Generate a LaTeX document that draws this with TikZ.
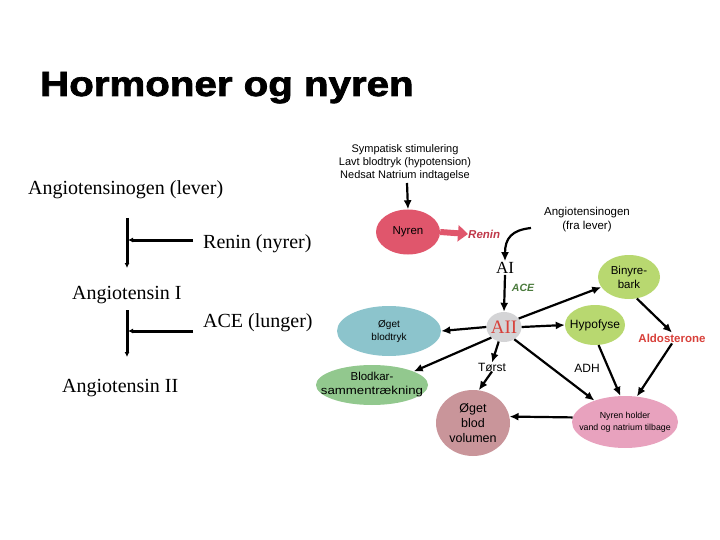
\documentclass[tikz,border=0pt]{standalone}
\usepackage{fontspec}
\setmainfont{Liberation Serif}
\newfontfamily\arialf{Liberation Sans}
\newfontfamily\titlef[FakeBold=2]{Liberation Sans Bold}
\usetikzlibrary{arrows.meta,shapes.geometric}
\definecolor{nyrcol}{HTML}{E0566C}
\definecolor{renincol}{HTML}{C0394A}
\definecolor{acecol}{HTML}{4A7A3C}
\definecolor{aiicol}{HTML}{D4D4D6}
\definecolor{blodcol}{HTML}{8CC4CC}
\definecolor{bincol}{HTML}{B8D870}
\definecolor{karcol}{HTML}{92C88E}
\definecolor{volcol}{HTML}{C9959A}
\definecolor{holdcol}{HTML}{E8A2BE}
\definecolor{aldcol}{HTML}{D8403A}
\begin{document}
\begin{tikzpicture}[x=1pt,y=-1pt,
  serif/.style={font=\fontsize{20}{22}\selectfont, inner sep=0pt},
  sm/.style={font=\arialf\fontsize{11}{13}\selectfont, align=center, inner sep=0pt},
  blob/.style={ellipse, inner sep=0pt},
  btxt/.style={font=\arialf\fontsize{11.5}{14}\selectfont, align=center, inner sep=0pt},
  arr/.style={-{Latex[length=9pt,width=8pt]}, line width=2.2pt},
  larr/.style={-{Latex[length=5pt,width=5pt]}, line width=3pt}]
\useasboundingbox (0,0) rectangle (720,540);
% title
\node[anchor=base west, inner sep=0pt] (title) at (40,96) {\scalebox{1.15}[1]{\titlef\fontsize{35}{38}\selectfont Hormoner og nyren}};
% left column
\node[serif, anchor=base west] (agen) at (28,195) {Angiotensinogen (lever)};
\node[serif, anchor=base west] (renl) at (203,248) {Renin (nyrer)};
\node[serif, anchor=base west] (a1l) at (72,299) {Angiotensin I};
\node[serif, anchor=base west] (acel) at (203,327) {ACE (lunger)};
\node[serif, anchor=base west] (a2l) at (62,392) {Angiotensin II};
\coordinate (v1t) at (127,218); \coordinate (v1b) at (127,268);
\coordinate (h1r) at (193,240); \coordinate (h1l) at (128,240);
\coordinate (v2t) at (127,310); \coordinate (v2b) at (127,357);
\coordinate (h2r) at (193,331); \coordinate (h2l) at (128,331);
\draw[larr] (v1t) -- (v1b);
\draw[larr] (h1r) -- (h1l);
\draw[larr] (v2t) -- (v2b);
\draw[larr] (h2r) -- (h2l);
% right diagram
\node[sm] (symp) at (405,163) {Sympatisk stimulering\\Lavt blodtryk (hypotension)\\Nedsat Natrium indtagelse};
\node[blob, fill=nyrcol, minimum width=64pt, minimum height=45pt, label={[btxt]center:Nyren}] (nyren) at (408,232) {};
\draw[arr] (407,183) -- (nyren.north);
\node[font=\arialf\bfseries\itshape\fontsize{11.5}{13}\selectfont, text=renincol, inner sep=0pt, anchor=west] (renin) at (468,234) {Renin};
\draw[-{Triangle[length=10pt,width=16pt]}, line width=6pt, color=nyrcol] (nyren.east) -- (renin.west);
\node[sm, font=\arialf\fontsize{11.5}{14}\selectfont] (agen2) at (587,220) {Angiotensinogen\\(fra lever)};
\node[font=\fontsize{17}{18}\selectfont, inner sep=1pt] (ai) at (505,268) {AI};
\draw[arr] (531,228) .. controls (512,230) and (505,238) .. (ai.north);
\node[blob, fill=aiicol, minimum width=35pt, minimum height=30pt, label={[btxt, text=aldcol, font=\fontsize{19}{20}\selectfont]center:AII}] (aii) at (504,327) {};
\draw[arr] (ai.south) -- (aii.north);
\node[font=\arialf\bfseries\itshape\fontsize{10.5}{12}\selectfont, text=acecol, inner sep=0pt] (ace) at (523,288) {ACE};
\node[blob, fill=blodcol, minimum width=104pt, minimum height=50pt, label={[btxt, font=\arialf\fontsize{10}{13}\selectfont]center:Øget\\blodtryk}] (blod) at (389,331) {};
\node[blob, fill=bincol, minimum width=62pt, minimum height=44pt, label={[btxt]center:Binyre-\\bark}] (bin) at (629,277) {};
\node[blob, fill=bincol, minimum width=60pt, minimum height=40pt, label={[btxt, font=\arialf\fontsize{12}{14}\selectfont]center:Hypofyse}] (hyp) at (595,325) {};
\node[font=\arialf\bfseries\fontsize{11.5}{12}\selectfont, text=aldcol, inner sep=1pt] (ald) at (672,338) {Aldosterone};
\node[sm, font=\arialf\fontsize{12}{14}\selectfont] (torst) at (492,367) {Tørst};
\node[sm, font=\arialf\fontsize{12}{14}\selectfont] (adh) at (587,368) {ADH};
\node[blob, fill=karcol, minimum width=112pt, minimum height=40pt, label={[btxt]center:Blodkar-\\\scalebox{1.15}[1]{sammentrækning}}] (kar) at (372,385) {};
\node[blob, fill=volcol, minimum width=74pt, minimum height=66pt, label={[btxt, font=\arialf\fontsize{12.5}{15}\selectfont]center:Øget\\blod\\volumen}] (vol) at (473,423) {};
\node[blob, fill=holdcol, minimum width=106pt, minimum height=52pt, label={[btxt, font=\arialf\fontsize{8.8}{12}\selectfont]center:Nyren holder\\vand og natrium tilbage}] (hold) at (625,422) {};
\draw[arr] (aii.west) -- (blod.east);
\draw[arr] (aii.30) -- (bin.200);
\draw[arr] (aii.east) -- (hyp.west);
\draw[arr] (bin.290) -- (ald.north);
\draw[arr] (aii.250) -- (torst.north);
\draw[arr] (torst.south) -- (vol.80);
\draw[arr] (aii.220) -- (kar.18);
\draw[arr] (aii.310) -- (hold.145);
\draw[arr] (hyp.280) -- (hold.100);
\draw[arr] (ald.south) -- (hold.65);
\draw[arr] (hold.175) -- (vol.10);
\end{tikzpicture}
\end{document}
